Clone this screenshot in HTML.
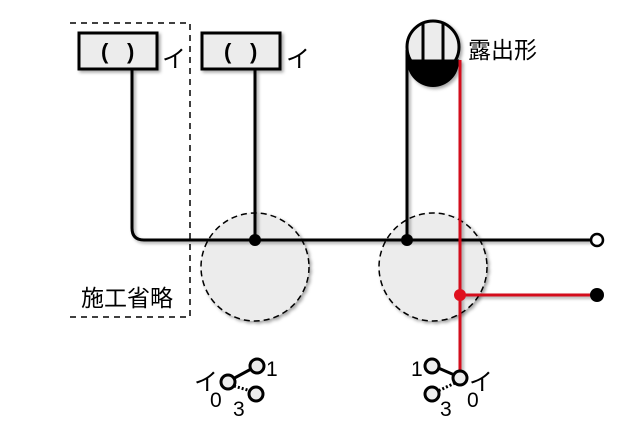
<!DOCTYPE html>
<html><head><meta charset="utf-8"><style>
html,body{margin:0;padding:0;background:#fff;}
svg{display:block;}
text{font-family:"Liberation Sans","Noto Sans CJK JP",sans-serif;fill:#000;}
</style></head><body>
<svg width="640" height="427" viewBox="0 0 640 427" xmlns="http://www.w3.org/2000/svg">
<defs>
<filter id="sh" x="-20%" y="-20%" width="150%" height="150%">
<feDropShadow dx="2" dy="2" stdDeviation="1.5" flood-color="#000" flood-opacity="0.35"/>
</filter>
</defs>
<path d="M70,23 H190 V317 H70" fill="none" stroke="#000" stroke-width="1.5" stroke-dasharray="6,5"/>
<text x="81" y="306" font-size="23">施工省略</text>
<circle cx="255" cy="267" r="54" fill="#ececec" stroke="#000" stroke-width="1.5" stroke-dasharray="6,4" filter="url(#sh)"/>
<circle cx="433" cy="267" r="54" fill="#ececec" stroke="#000" stroke-width="1.5" stroke-dasharray="6,4" filter="url(#sh)"/>
<g filter="url(#sh)" fill="none" stroke="#000" stroke-width="3">
<path d="M132,70 V228 Q132,240 144,240 H591"/>
<path d="M255,70 V240"/>
<path d="M407,50 V240"/>
</g>
<g filter="url(#sh)">
<rect x="79" y="33" width="78" height="36" fill="#ececec" stroke="#000" stroke-width="3"/>
<rect x="202" y="33" width="78" height="36" fill="#ececec" stroke="#000" stroke-width="3"/>
</g>
<text x="101" y="59" font-size="22" font-weight="bold">(</text>
<text x="127" y="59" font-size="22" font-weight="bold">)</text>
<text x="224" y="59" font-size="22" font-weight="bold">(</text>
<text x="250" y="59" font-size="22" font-weight="bold">)</text>
<text x="162" y="67" font-size="24">イ</text>
<text x="286" y="67" font-size="24">イ</text>
<g filter="url(#sh)">
<circle cx="433" cy="47" r="26" fill="#ececec"/>
<path d="M407,61 A26,26 0 0 0 459,61 Z" fill="#000"/>
<line x1="423" y1="22" x2="423" y2="61" stroke="#000" stroke-width="3"/>
<line x1="443" y1="22" x2="443" y2="61" stroke="#000" stroke-width="3"/>
<line x1="407" y1="61" x2="459" y2="61" stroke="#000" stroke-width="3"/>
<circle cx="433" cy="47" r="26" fill="none" stroke="#000" stroke-width="3"/>
</g>
<text x="468" y="58" font-size="23">露出形</text>
<g filter="url(#sh)" fill="none" stroke="#d40f1f" stroke-width="3">
<path d="M460,60 V370"/>
<path d="M460,295 H592"/>
</g>
<circle cx="460" cy="295" r="6" fill="#e0101e"/>
<circle cx="255" cy="240" r="6" fill="#000"/>
<circle cx="407" cy="240" r="6" fill="#000"/>
<circle cx="597" cy="240" r="6" fill="#fff" stroke="#000" stroke-width="2.5"/>
<circle cx="597" cy="295" r="7" fill="#000"/>
<g stroke="#000" stroke-width="3" fill="#ececec">
<line x1="229" y1="381" x2="253" y2="368"/>
<line x1="234" y1="386" x2="251" y2="391" stroke-dasharray="2,2"/>
<circle cx="228" cy="382" r="7"/>
<circle cx="257" cy="366" r="7"/>
<circle cx="256" cy="394" r="7"/>
</g>
<text x="194" y="390" font-size="24">イ</text>
<text x="210" y="407" font-size="21">0</text>
<text x="233" y="416" font-size="21">3</text>
<text x="266" y="376" font-size="21">1</text>
<g stroke="#000" stroke-width="3" fill="#ececec">
<line x1="459" y1="377" x2="436" y2="367"/>
<line x1="455" y1="383" x2="438" y2="391" stroke-dasharray="2,2"/>
<circle cx="460" cy="378" r="7"/>
<circle cx="432" cy="366" r="7"/>
<circle cx="432" cy="394" r="7"/>
</g>
<text x="411" y="376" font-size="21">1</text>
<text x="440" y="416" font-size="21">3</text>
<text x="467" y="407" font-size="21">0</text>
<text x="469" y="390" font-size="24">イ</text>
</svg>
</body></html>
